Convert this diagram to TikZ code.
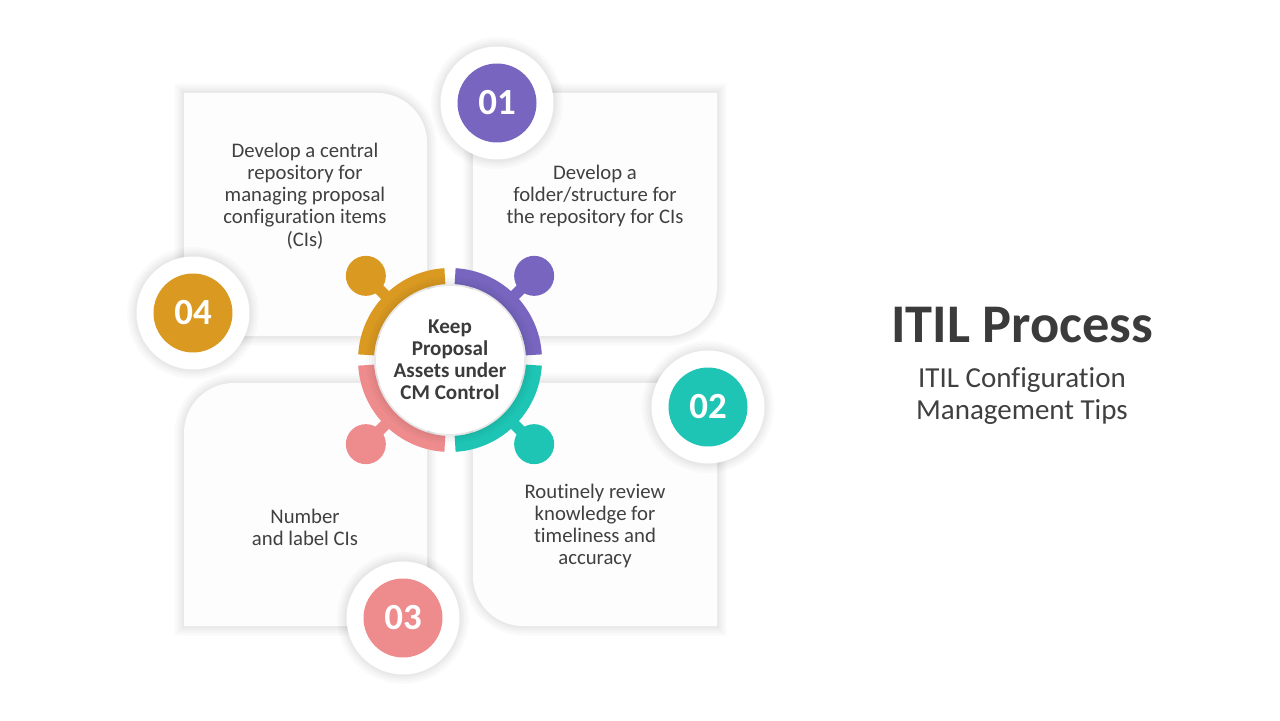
\documentclass[tikz,border=0pt]{standalone}
\usepackage{fontspec}
\setmainfont{Carlito}[Ligatures=NoCommon]
\usetikzlibrary{positioning}
\definecolor{itilpurple}{HTML}{7765BF}
\definecolor{itilteal}{HTML}{1EC5B4}
\definecolor{itilpink}{HTML}{EE8B8C}
\definecolor{itilgold}{HTML}{DA9A22}
\definecolor{cardgray}{HTML}{FDFDFD}
\definecolor{textgray}{HTML}{404040}
\definecolor{titlegray}{HTML}{3B3B3B}

\begin{document}
\begin{tikzpicture}[x=0.02cm,y=0.02cm,
  softshadow/.style={preaction={draw=black,draw opacity=0.018,line width=0.38cm},
    preaction={draw=black,draw opacity=0.02,line width=0.28cm},
    preaction={draw=black,draw opacity=0.022,line width=0.18cm},
    preaction={draw=black,draw opacity=0.025,line width=0.09cm}},
  card/.style={fill=cardgray,softshadow},
  cardtext/.style={text=textgray,align=center,font=\fontsize{11.8}{12.6}\selectfont},
  badgering/.style={circle,fill=white,minimum size=2.26cm,inner sep=0pt,softshadow},
  badge/.style={circle,minimum size=1.58cm,inner sep=0pt,text=white,font=\bfseries\fontsize{21}{24}\selectfont}]
  \useasboundingbox (0,0) rectangle (1280,720); % 画像全体の範囲
  \fill[white] (0,0) rectangle (1280,720); % 背景

  \path[card] (184,384) -- (184,627) -- (377,627) arc[start angle=90,end angle=0,radius=50] -- (427,384) -- cycle; % 左上のカード（右上が丸い）
  \path[card] (473,384) -- (473,627) -- (717,627) -- (717,434) arc[start angle=0,end angle=-90,radius=50] -- cycle; % 右上のカード（右下が丸い）
  \path[card] (184,94) -- (184,287) arc[start angle=180,end angle=90,radius=50] -- (427,337) -- (427,94) -- cycle; % 左下のカード（左上が丸い）
  \path[card] (523,94) -- (717,94) -- (717,337) -- (473,337) -- (473,144) arc[start angle=180,end angle=270,radius=50] -- cycle; % 右下のカード（左下が丸い）

  \node[cardtext] (tip1) at (305,524) {Develop a central\\repository for\\managing proposal\\configuration items\\(CIs)}; % 左上カードの文
  \node[cardtext] (tip2) at (595,524) {Develop a\\folder/structure for\\the repository for CIs}; % 右上カードの文
  \node[cardtext] (tip3) at (305,193) {Number\\and label CIs}; % 左下カードの文
  \node[cardtext] (tip4) at (595,194) {Routinely review\\knowledge for\\timeliness and\\accuracy}; % 右下カードの文

  \coordinate (hub) at (450,360); % 中央の円の中心
  \fill[itilgold] (hub) ++(93.5:92) arc[start angle=93.5,end angle=176.5,radius=92] -- ++(176.5:-16) arc[start angle=176.5,end angle=93.5,radius=76] -- cycle; % 左上の弧
  \fill[itilpurple] (hub) ++(3.5:92) arc[start angle=3.5,end angle=86.5,radius=92] -- ++(86.5:-16) arc[start angle=86.5,end angle=3.5,radius=76] -- cycle; % 右上の弧
  \fill[itilteal] (hub) ++(-86.5:92) arc[start angle=-86.5,end angle=-3.5,radius=92] -- ++(-3.5:-16) arc[start angle=-3.5,end angle=-86.5,radius=76] -- cycle; % 右下の弧
  \fill[itilpink] (hub) ++(183.5:92) arc[start angle=183.5,end angle=266.5,radius=92] -- ++(266.5:-16) arc[start angle=266.5,end angle=183.5,radius=76] -- cycle; % 左下の弧
  \draw[itilgold,line width=0.22cm] (hub) ++(135:88) -- ++(135:31); % 左上の首
  \draw[itilpurple,line width=0.22cm] (hub) ++(45:88) -- ++(45:31); % 右上の首
  \draw[itilteal,line width=0.22cm] (hub) ++(-45:88) -- ++(-45:31); % 右下の首
  \draw[itilpink,line width=0.22cm] (hub) ++(-135:88) -- ++(-135:31); % 左下の首
  \fill[itilgold] (hub) ++(135:119) circle[radius=20]; % 左上の玉
  \fill[itilpurple] (hub) ++(45:119) circle[radius=20]; % 右上の玉
  \fill[itilteal] (hub) ++(-45:119) circle[radius=20]; % 右下の玉
  \fill[itilpink] (hub) ++(-135:119) circle[radius=20]; % 左下の玉
  \node[circle,fill=white,minimum size=2.96cm,inner sep=0pt,softshadow,text=titlegray,align=center,
    font=\bfseries\fontsize{12}{12.6}\selectfont] (core) at (hub) {Keep\\Proposal\\Assets under\\CM Control}; % 中央の円と文

  \node[badgering] (ring1) at (497,617) {}; % 01 の白い縁
  \node[badge,fill=itilpurple] (num1) at (ring1) {01}; % 01
  \node[badgering] (ring2) at (708,313) {}; % 02 の白い縁
  \node[badge,fill=itilteal] (num2) at (ring2) {02}; % 02
  \node[badgering] (ring3) at (403,102) {}; % 03 の白い縁
  \node[badge,fill=itilpink] (num3) at (ring3) {03}; % 03
  \node[badgering] (ring4) at (193,407) {}; % 04 の白い縁
  \node[badge,fill=itilgold] (num4) at (ring4) {04}; % 04

  \node[text=titlegray,font=\bfseries\fontsize{31}{36}\selectfont] (title) at (1022,395) {ITIL Process}; % 題名
  \node[text=textgray,align=center,font=\fontsize{16.5}{18.2}\selectfont,below=0.25cm of title] (subtitle) {ITIL Configuration\\Management Tips}; % 副題
\end{tikzpicture}
\end{document}
